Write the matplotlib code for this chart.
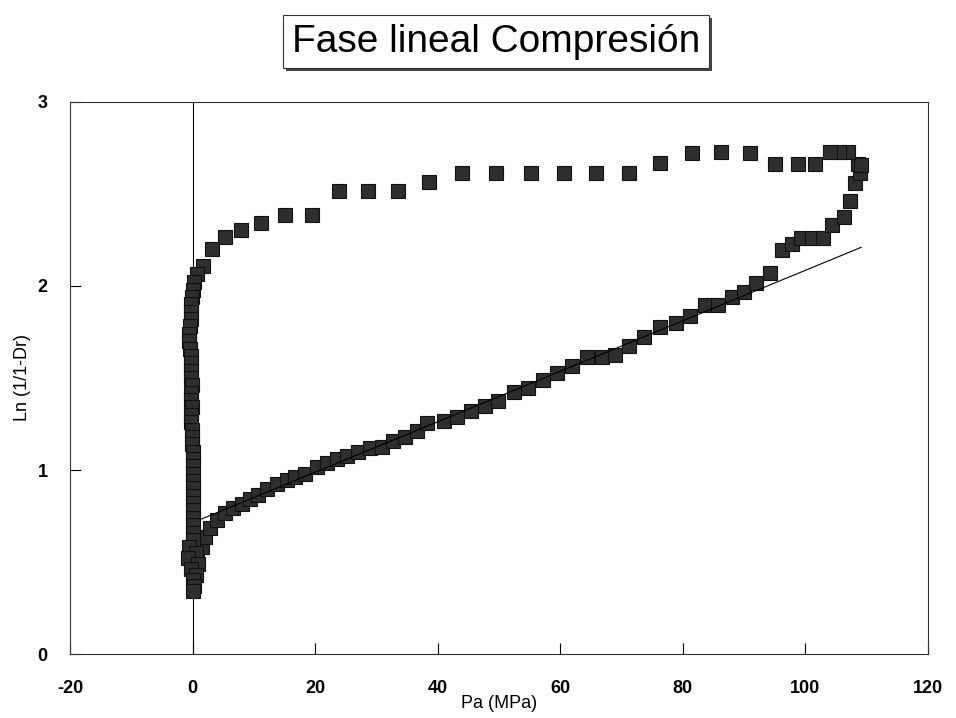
import matplotlib.pyplot as plt
import matplotlib.patheffects as pe

plt.rcParams['font.family'] = ['Liberation Sans', 'DejaVu Sans']
plt.rcParams['axes.unicode_minus'] = False

# Loading branch (lower curve)
load_x = [0.67, 1.49, 2.03, 2.84, 3.94, 5.29, 6.64, 8.01, 9.37, 10.72, 12.09, 13.72,
          15.36, 16.71, 18.34, 20.25, 21.88, 23.52, 25.15, 27.04, 28.95, 30.86, 32.75,
          34.66, 36.57, 38.20, 41.02, 43.19, 45.38, 47.71, 49.88, 52.44, 54.78, 57.13,
          59.51, 61.95, 64.30, 66.75, 68.92, 71.25, 73.65, 76.26, 78.87, 81.16, 83.61,
          85.78, 87.96, 89.97, 91.93, 94.21, 96.12, 97.75, 99.27, 101.07, 102.86, 104.28,
          106.29, 107.27, 108.08, 108.9, 108.57, 109.06]
load_y = [0.549, 0.583, 0.637, 0.683, 0.728, 0.765, 0.792, 0.815, 0.841, 0.864, 0.895, 0.924,
          0.946, 0.964, 0.977, 1.015, 1.040, 1.058, 1.076, 1.099, 1.118, 1.127, 1.158,
          1.178, 1.214, 1.254, 1.268, 1.290, 1.322, 1.349, 1.377, 1.422, 1.444, 1.489,
          1.529, 1.567, 1.616, 1.613, 1.625, 1.674, 1.724, 1.776, 1.797, 1.837, 1.897,
          1.897, 1.942, 1.969, 2.015, 2.069, 2.196, 2.228, 2.261, 2.261, 2.261, 2.332,
          2.377, 2.462, 2.558, 2.614, 2.663, 2.658]

# Unloading branch (upper curve)
unload_x = [106.9, 105.5, 104.0, 101.55, 98.73, 95.03, 90.95, 86.22, 81.44, 76.26, 71.15,
            65.82, 60.65, 55.22, 49.51, 43.91, 38.62, 33.57, 28.57, 23.94, 19.53, 15.08,
            11.11, 7.85, 5.29, 3.12, 1.70, 0.67]
unload_y = [2.728, 2.728, 2.728, 2.663, 2.663, 2.663, 2.724, 2.728, 2.724, 2.667, 2.612,
            2.616, 2.616, 2.616, 2.616, 2.616, 2.565, 2.515, 2.518, 2.515, 2.386, 2.386,
            2.344, 2.304, 2.266, 2.201, 2.109, 2.065]

# Near-vertical part at Pa ~ 0
col_x = [0.2, 0.0, -0.1, -0.2, -0.3, -0.3, -0.4, -0.5, -0.5, -0.4, -0.3, -0.2, -0.2, -0.2,
         -0.1, -0.2, -0.2, -0.1, -0.2, -0.2, -0.1, -0.1, -0.1, 0.0, 0.0, 0.0, 0.1, 0.1,
         0.1, 0.1, 0.1, 0.1, 0.1, 0.0, 0.0, 0.1, -0.6, 0.5, -0.8, 0.9, -0.3, 0.6, 0.0,
         0.2, 0.1]
col_y = [2.02, 1.98, 1.94, 1.90, 1.86, 1.82, 1.78, 1.74, 1.70, 1.66, 1.62, 1.58, 1.54, 1.50,
         1.46, 1.42, 1.38, 1.34, 1.30, 1.26, 1.22, 1.18, 1.14, 1.10, 1.06, 1.02, 0.98, 0.94,
         0.90, 0.86, 0.82, 0.78, 0.74, 0.70, 0.66, 0.62, 0.58, 0.55, 0.52, 0.49, 0.46, 0.43,
         0.40, 0.37, 0.34]

# Linear fit
fit_x = [1.2, 109.1]
fit_y = [0.73, 2.21]

fig = plt.figure(figsize=(9.56, 7.18), dpi=100)
ax = fig.add_axes([0.0732, 0.0891, 0.8975, 0.7689])

ax.axvline(0, color='black', linewidth=0.8, zorder=1)

marker_style = dict(linestyle='none', marker='s', markersize=10.5,
                    markerfacecolor='#2e2e2e', markeredgecolor='#111111',
                    markeredgewidth=0.8, zorder=3)
ax.plot(load_x, load_y, **marker_style)
ax.plot(unload_x, unload_y, **marker_style)
ax.plot(col_x, col_y, **marker_style)

ax.plot(fit_x, fit_y, color='black', linewidth=0.8, zorder=4)

ax.set_xlim(-20, 120)
ax.set_ylim(0, 3)
ax.set_xticks(range(-20, 121, 20))
ax.set_yticks([0, 1, 2, 3])
ax.tick_params(direction='in', length=8, width=0.8, labelsize=13)
ax.tick_params(axis='x', pad=19)
ax.tick_params(axis='y', pad=16)
for lbl in ax.get_xticklabels() + ax.get_yticklabels():
    lbl.set_fontweight('bold')
for s in ax.spines.values():
    s.set_linewidth(0.8)
    s.set_color('#333333')

ax.set_xlabel('Pa (MPa)', fontsize=13)
ax.xaxis.set_label_coords(0.5, -0.074)
ax.set_ylabel('Ln (1/1-Dr)', fontsize=13)
ax.yaxis.set_label_coords(-0.045, 0.5)

t = fig.text(0.519, 0.942, 'Fase lineal Compresión', fontsize=28, ha='center', va='center',
             bbox=dict(boxstyle='square,pad=0.22', facecolor='white', edgecolor='#333333',
                       linewidth=0.8))
t.get_bbox_patch().set_path_effects([
    pe.withSimplePatchShadow(offset=(2, -2), shadow_rgbFace='#444444', alpha=1)])

fig.savefig('out.png', dpi=100)
